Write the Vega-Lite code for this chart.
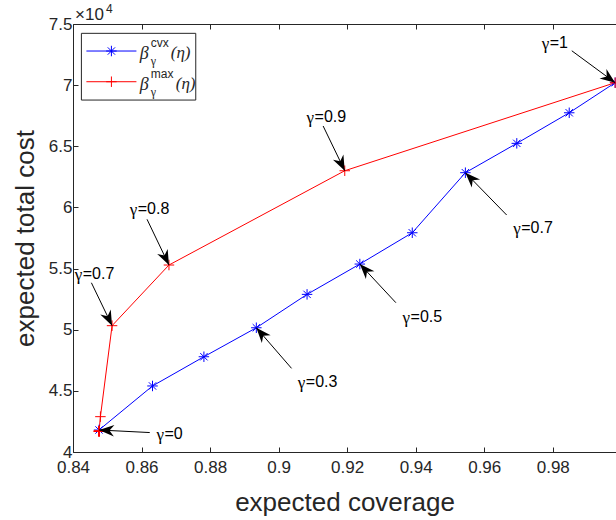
{
  "$schema": "https://vega.github.io/schema/vega-lite/v6.json",
  "width": 543,
  "height": 428,
  "autosize": {"type": "none"},
  "padding": {"left": 73, "top": 24, "right": 0, "bottom": 68},
  "background": "white",
  "config": {
    "view": {"stroke": null},
    "font": "Liberation Sans",
    "axis": {
      "domainColor": "#262626", "tickColor": "#262626", "labelColor": "#262626", "titleColor": "#262626",
      "labelFont": "Liberation Sans", "titleFont": "Liberation Sans",
      "labelFontSize": 17, "titleFontSize": 26, "titleFontWeight": "normal",
      "grid": false, "tickSize": -5, "domainWidth": 1, "tickWidth": 1
    }
  },
  "datasets": {
    "curves": [
      {"series": "cvx", "gamma": 0.0, "coverage": 0.8476, "cost": 41800},
      {"series": "cvx", "gamma": 0.1, "coverage": 0.8632, "cost": 45400},
      {"series": "cvx", "gamma": 0.2, "coverage": 0.8782, "cost": 47790},
      {"series": "cvx", "gamma": 0.3, "coverage": 0.8935, "cost": 50160},
      {"series": "cvx", "gamma": 0.4, "coverage": 0.9083, "cost": 52890},
      {"series": "cvx", "gamma": 0.5, "coverage": 0.9237, "cost": 55370},
      {"series": "cvx", "gamma": 0.6, "coverage": 0.9390, "cost": 57930},
      {"series": "cvx", "gamma": 0.7, "coverage": 0.9545, "cost": 62840},
      {"series": "cvx", "gamma": 0.8, "coverage": 0.9695, "cost": 65240},
      {"series": "cvx", "gamma": 0.9, "coverage": 0.9848, "cost": 67740},
      {"series": "cvx", "gamma": 1.0, "coverage": 0.9982, "cost": 70200},
      {"series": "max", "gamma": 0.0, "coverage": 0.8476, "cost": 41700},
      {"series": "max", "gamma": 0.1, "coverage": 0.8476, "cost": 41700},
      {"series": "max", "gamma": 0.2, "coverage": 0.8476, "cost": 41700},
      {"series": "max", "gamma": 0.3, "coverage": 0.8476, "cost": 41700},
      {"series": "max", "gamma": 0.4, "coverage": 0.8476, "cost": 41700},
      {"series": "max", "gamma": 0.5, "coverage": 0.8476, "cost": 41700},
      {"series": "max", "gamma": 0.6, "coverage": 0.8480, "cost": 42890},
      {"series": "max", "gamma": 0.7, "coverage": 0.8514, "cost": 50330},
      {"series": "max", "gamma": 0.8, "coverage": 0.8680, "cost": 55290},
      {"series": "max", "gamma": 0.9, "coverage": 0.9193, "cost": 63000},
      {"series": "max", "gamma": 1.0, "coverage": 0.9982, "cost": 70200}
    ],
    "arrows": [
      {"value": "=0", "tx": 0.8624, "ty": 41590, "hx": 0.8476, "hy": 41800, "lx": 0.86435, "ly": 41450},
      {"value": "=0.3", "tx": 0.90377, "ty": 46840, "hx": 0.8935, "hy": 50160, "lx": 0.9056, "ly": 45760},
      {"value": "=0.5", "tx": 0.93422, "ty": 52210, "hx": 0.9237, "hy": 55370, "lx": 0.93618, "ly": 51010},
      {"value": "=0.7", "tx": 0.96654, "ty": 59380, "hx": 0.9545, "hy": 62840, "lx": 0.96847, "ly": 58290},
      {"value": "=1", "tx": 0.98555, "ty": 72810, "hx": 0.9982, "hy": 70200, "lx": 0.97676, "ly": 73440},
      {"value": "=0.7", "tx": 0.84537, "ty": 53840, "hx": 0.8514, "hy": 50330, "lx": 0.8405, "ly": 54550},
      {"value": "=0.8", "tx": 0.8616, "ty": 59030, "hx": 0.8680, "hy": 55290, "lx": 0.85655, "ly": 59870},
      {"value": "=0.9", "tx": 0.91299, "ty": 66660, "hx": 0.9193, "hy": 63000, "lx": 0.90815, "ly": 67420}
    ],
    "legendBox": [{"x1": 0.84245, "x2": 0.87582, "y1": 68780, "y2": 74236}],
    "legendItems": [
      {"series": "cvx", "y": 72790, "lx1": 0.84391, "lx2": 0.85851, "px": 0.85121, "tx": 0.85947, "sx": 0.86268, "sup": "cvx", "ex": 0.86853},
      {"series": "max", "y": 70280, "lx1": 0.84391, "lx2": 0.85851, "px": 0.85121, "tx": 0.85947, "sx": 0.86268, "sup": "max", "ex": 0.86999}
    ]
  },
  "resolve": {"axis": {"x": "independent", "y": "independent"}},
  "layer": [
    {
      "data": {"name": "curves"},
      "mark": {"type": "line", "strokeWidth": 1},
      "encoding": {
        "x": {"field": "coverage", "type": "quantitative", "scale": {"domain": [0.84, 0.99845], "nice": false, "zero": false},
          "axis": {"orient": "bottom", "values": [0.84, 0.86, 0.88, 0.9, 0.92, 0.94, 0.96, 0.98], "format": ".2~f", "labelPadding": 12, "title": "expected coverage", "titlePadding": 14, "labelFlush": false}},
        "y": {"field": "cost", "type": "quantitative", "scale": {"domain": [40000, 75000], "nice": false, "zero": false},
          "axis": {"orient": "left", "values": [40000, 45000, 50000, 55000, 60000, 65000, 70000, 75000], "labelExpr": "datum.value / 10000", "labelPadding": 6, "title": "expected total cost", "titlePadding": 10, "labelFlush": false}},
        "color": {"field": "series", "type": "nominal", "scale": {"domain": ["cvx", "max"], "range": ["#0000FF", "#FF0000"]}, "legend": null},
        "order": {"field": "gamma", "type": "quantitative"}
      }
    },
    {
      "data": {"name": "curves"},
      "mark": {"type": "point", "filled": false, "strokeWidth": 1, "opacity": 1},
      "encoding": {
        "x": {"field": "coverage", "type": "quantitative", "axis": {"orient": "top", "values": [0.84, 0.86, 0.88, 0.9, 0.92, 0.94, 0.96, 0.98], "labels": false, "title": null}},
        "y": {"field": "cost", "type": "quantitative", "axis": null},
        "color": {"field": "series", "type": "nominal", "legend": null},
        "shape": {"field": "series", "type": "nominal", "scale": {"domain": ["cvx", "max"], "range": ["M-1,0L1,0M0,-1L0,1M-0.7,-0.7L0.7,0.7M-0.7,0.7L0.7,-0.7", "M-1,0L1,0M0,-1L0,1"]}, "legend": null},
        "size": {"value": 110}
      }
    },
    {
      "data": {"name": "arrows"},
      "mark": {"type": "rule", "color": "black", "strokeWidth": 1},
      "encoding": {
        "x": {"field": "tx", "type": "quantitative", "axis": null},
        "y": {"field": "ty", "type": "quantitative", "axis": null},
        "x2": {"field": "hx"},
        "y2": {"field": "hy"}
      }
    },
    {
      "data": {"name": "arrows"},
      "transform": [
        {"calculate": "atan2(-(datum.hy - datum.ty) * 0.012229, (datum.hx - datum.tx) * 3427) * 180 / PI", "as": "ang"}
      ],
      "mark": {"type": "point", "filled": true, "color": "black", "opacity": 1, "shape": "M0,0L-2.6,-1L-1.8,0L-2.6,1Z", "size": 135},
      "encoding": {
        "x": {"field": "hx", "type": "quantitative", "axis": null},
        "y": {"field": "hy", "type": "quantitative", "axis": null},
        "angle": {"field": "ang", "type": "quantitative", "scale": null}
      }
    },
    {
      "data": {"name": "arrows"},
      "mark": {"type": "text", "fontSize": 17, "color": "black", "align": "left", "baseline": "middle", "font": "Liberation Serif", "dy": 1},
      "encoding": {
        "x": {"field": "lx", "type": "quantitative", "axis": null},
        "y": {"field": "ly", "type": "quantitative", "axis": null},
        "text": {"value": "γ"}
      }
    },
    {
      "data": {"name": "arrows"},
      "mark": {"type": "text", "fontSize": 16, "color": "black", "align": "left", "baseline": "middle", "font": "Liberation Sans", "dx": 8},
      "encoding": {
        "x": {"field": "lx", "type": "quantitative", "axis": null},
        "y": {"field": "ly", "type": "quantitative", "axis": null},
        "text": {"field": "value"}
      }
    },
    {
      "data": {"name": "legendBox"},
      "mark": {"type": "rect", "fill": "white", "stroke": "#262626", "strokeWidth": 1},
      "encoding": {
        "x": {"field": "x1", "type": "quantitative", "axis": null},
        "x2": {"field": "x2"},
        "y": {"field": "y1", "type": "quantitative", "axis": null},
        "y2": {"field": "y2"}
      }
    },
    {
      "data": {"name": "legendItems"},
      "mark": {"type": "rule", "strokeWidth": 1},
      "encoding": {
        "x": {"field": "lx1", "type": "quantitative", "axis": null},
        "x2": {"field": "lx2"},
        "y": {"field": "y", "type": "quantitative", "axis": null},
        "color": {"field": "series", "type": "nominal", "legend": null}
      }
    },
    {
      "data": {"name": "legendItems"},
      "mark": {"type": "point", "filled": false, "strokeWidth": 1, "opacity": 1},
      "encoding": {
        "x": {"field": "px", "type": "quantitative", "axis": null},
        "y": {"field": "y", "type": "quantitative", "axis": null},
        "color": {"field": "series", "type": "nominal", "legend": null},
        "shape": {"field": "series", "type": "nominal", "legend": null},
        "size": {"value": 110}
      }
    },
    {
      "data": {"name": "legendItems"},
      "mark": {"type": "text", "font": "Liberation Serif", "fontStyle": "italic", "fontSize": 18, "align": "left", "baseline": "middle", "dy": 3, "color": "#262626"},
      "encoding": {
        "x": {"field": "tx", "type": "quantitative", "axis": null},
        "y": {"field": "y", "type": "quantitative", "axis": null},
        "text": {"value": "β"}
      }
    },
    {
      "data": {"name": "legendItems"},
      "mark": {"type": "text", "font": "Liberation Sans", "fontSize": 12, "align": "left", "baseline": "middle", "dy": -8, "color": "#262626"},
      "encoding": {
        "x": {"field": "sx", "type": "quantitative", "axis": null},
        "y": {"field": "y", "type": "quantitative", "axis": null},
        "text": {"field": "sup"}
      }
    },
    {
      "data": {"name": "legendItems"},
      "mark": {"type": "text", "font": "Liberation Serif", "fontSize": 12, "align": "left", "baseline": "middle", "dy": 10, "color": "#262626"},
      "encoding": {
        "x": {"field": "sx", "type": "quantitative", "axis": null},
        "y": {"field": "y", "type": "quantitative", "axis": null},
        "text": {"value": "γ"}
      }
    },
    {
      "data": {"name": "legendItems"},
      "mark": {"type": "text", "font": "Liberation Serif", "fontStyle": "italic", "fontSize": 17, "align": "left", "baseline": "middle", "dy": 2, "color": "#262626"},
      "encoding": {
        "x": {"field": "ex", "type": "quantitative", "axis": null},
        "y": {"field": "y", "type": "quantitative", "axis": null},
        "text": {"value": "(η)"}
      }
    },
    {
      "data": {"values": [{}]},
      "mark": {"type": "text", "font": "Liberation Sans", "fontSize": 17, "align": "left", "baseline": "middle", "dx": 2, "dy": -9, "color": "#262626"},
      "encoding": {
        "x": {"datum": 0.84, "type": "quantitative", "axis": null},
        "y": {"datum": 75000, "type": "quantitative", "axis": null},
        "text": {"value": "×10"}
      }
    },
    {
      "data": {"values": [{}]},
      "mark": {"type": "text", "font": "Liberation Sans", "fontSize": 12, "align": "left", "baseline": "middle", "dx": 33, "dy": -15, "color": "#262626"},
      "encoding": {
        "x": {"datum": 0.84, "type": "quantitative", "axis": null},
        "y": {"datum": 75000, "type": "quantitative", "axis": null},
        "text": {"value": "4"}
      }
    }
  ]
}
